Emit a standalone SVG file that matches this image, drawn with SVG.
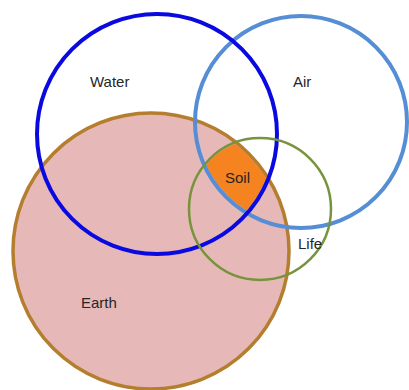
<svg xmlns="http://www.w3.org/2000/svg" width="409" height="390" viewBox="0 0 409 390">
  <style>
    .lbl { font-family: "Liberation Sans", Arial, sans-serif; font-size: 15px; fill: #262626; }
    .ring { fill: none; }
  </style>
  <defs>
    <clipPath id="cW"><circle cx="157" cy="134" r="118"/></clipPath>
    <clipPath id="cA"><circle cx="301" cy="122" r="104"/></clipPath>
    <clipPath id="cL"><circle cx="260" cy="209" r="69.7"/></clipPath>
  </defs>
  <rect width="409" height="390" fill="#ffffff"/>
  <g id="earth">
    <circle cx="151" cy="251" r="138" fill="#e6b9b8" stroke="#b47e2e" stroke-width="3.5"/>
    <text class="lbl" x="81" y="308">Earth</text>
  </g>
  <g id="soil">
    <g clip-path="url(#cW)">
      <g clip-path="url(#cA)">
        <g clip-path="url(#cL)">
          <circle cx="151" cy="251" r="136.2" fill="#f5831f"/>
        </g>
      </g>
    </g>
    <text class="lbl" x="225" y="183">Soil</text>
  </g>
  <g id="air">
    <circle class="ring" cx="301" cy="122" r="106" stroke="#558ed5" stroke-width="4"/>
    <text class="lbl" x="293" y="87">Air</text>
  </g>
  <g id="water">
    <circle class="ring" cx="157" cy="134" r="120" stroke="#0a0ae0" stroke-width="4"/>
    <text class="lbl" x="90" y="87">Water</text>
  </g>
  <g id="life">
    <circle class="ring" cx="260" cy="209" r="71" stroke="#77933c" stroke-width="2.5"/>
    <text class="lbl" x="298" y="249">Life</text>
  </g>
  <g id="connectors"></g>
</svg>
